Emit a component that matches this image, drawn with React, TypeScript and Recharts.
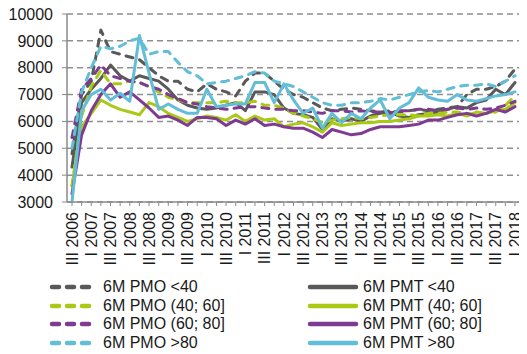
import React from 'react';
import { LineChart, Line, XAxis, YAxis, CartesianGrid } from 'recharts';

const quarters = [
  'III 2006', 'IV 2006',
  'I 2007', 'II 2007', 'III 2007', 'IV 2007',
  'I 2008', 'II 2008', 'III 2008', 'IV 2008',
  'I 2009', 'II 2009', 'III 2009', 'IV 2009',
  'I 2010', 'II 2010', 'III 2010', 'IV 2010',
  'I 2011', 'II 2011', 'III 2011', 'IV 2011',
  'I 2012', 'II 2012', 'III 2012', 'IV 2012',
  'I 2013', 'II 2013', 'III 2013', 'IV 2013',
  'I 2014', 'II 2014', 'III 2014', 'IV 2014',
  'I 2015', 'II 2015', 'III 2015', 'IV 2015',
  'I 2016', 'II 2016', 'III 2016', 'IV 2016',
  'I 2017', 'II 2017', 'III 2017', 'IV 2017',
  'I 2018',
];

const pmoLt40 = [4800, 7000, 7500, 9400, 8600, 8500, 8400, 8300, 8000, 7700, 7500, 7500, 7200, 7100, 7400, 7200, 7100, 6950, 7500, 7800, 7800, 7500, 7200, 7000, 6900, 6700, 6500, 6400, 6450, 6500, 6450, 6400, 6350, 6400, 6350, 6400, 6450, 6400, 6450, 6500, 6550, 7000, 7200, 7200, 7300, 7500, 7950];
const pmtLt40 = [4300, 6700, 7200, 7600, 8100, 7700, 7500, 7700, 7600, 7500, 7200, 6800, 6600, 6500, 6450, 6500, 6600, 6700, 6400, 7100, 7100, 7000, 6500, 6300, 6250, 6150, 5700, 6100, 6000, 6100, 6000, 6200, 6300, 6350, 6200, 6150, 6250, 6300, 6350, 6450, 6550, 6500, 6700, 6800, 7200, 7000, 7450];
const pmo40_60 = [3600, 6200, 7300, 7900, 7400, 7400, 7500, 7450, 7300, 7100, 6900, 6800, 6700, 6700, 6700, 6700, 6750, 6700, 6700, 6750, 6600, 6600, 6500, 6300, 6200, 6100, 5950, 6050, 6100, 6150, 6100, 6150, 6200, 6250, 6250, 6250, 6200, 6300, 6300, 6350, 6350, 6300, 6250, 6300, 6350, 6600, 6950];
const pmt40_60 = [3600, 5800, 6300, 6800, 6600, 6450, 6350, 6250, 6700, 6550, 6300, 6150, 6000, 6100, 6200, 6150, 6050, 6250, 6000, 6200, 6050, 6100, 5800, 5900, 5950, 5800, 5600, 5950, 5850, 5900, 5950, 5950, 6000, 6000, 6050, 6100, 6200, 6200, 6250, 6200, 6300, 6200, 6350, 6300, 6400, 6450, 6700];
const pmo60_80 = [5400, 7200, 7600, 8100, 7700, 7600, 7500, 7450, 7300, 7200, 7000, 6850, 6700, 6650, 6550, 6500, 6450, 6500, 6550, 6550, 6500, 6450, 6450, 6400, 6400, 6350, 6300, 6400, 6400, 6350, 6400, 6350, 6350, 6300, 6400, 6400, 6450, 6450, 6400, 6450, 6500, 6450, 6500, 6450, 6500, 6600, 6750];
const pmt60_80 = [3300, 5500, 6400, 7000, 7400, 6900, 7100, 6800, 6500, 6150, 6200, 6050, 5850, 6150, 6150, 6100, 5850, 6050, 5900, 6100, 5850, 5900, 5800, 5750, 5750, 5600, 5400, 5700, 5600, 5500, 5550, 5700, 5800, 5800, 5800, 5850, 5900, 6050, 6050, 6150, 6250, 6300, 6200, 6300, 6450, 6350, 6550];
const pmoGt80 = [5000, 7100, 8000, 8800, 8700, 8800, 9000, 9100, 8500, 8600, 8600, 8200, 7850, 7700, 7400, 7450, 7500, 7600, 7700, 7850, 7800, 7500, 7400, 7300, 7100, 6900, 6700, 6600, 6600, 6700, 6700, 6750, 6850, 6800, 6900, 7000, 7100, 7150, 7100, 7200, 7300, 7350, 7350, 7400, 7300, 7500, 7700];
const pmtGt80 = [3000, 6400, 7000, 7200, 6800, 7050, 6750, 9200, 7800, 6450, 6650, 6450, 6300, 6300, 7200, 6550, 6600, 6650, 6650, 7450, 7450, 6700, 7400, 6800, 6300, 6500, 5750, 6300, 5950, 6300, 6100, 6500, 6800, 6100, 6500, 6700, 7250, 6900, 6800, 6750, 7000, 6800, 6750, 6850, 6950, 7000, 7100];

const yTicks = [3000, 4000, 5000, 6000, 7000, 8000, 9000, 10000];

const GRAY = '#595959';
const GREEN = '#A9C914';
const PURPLE = '#7F3A92';
const BLUE = '#62BED6';

const series = [
  { key: 'pmoLt40', name: '6M PMO <40', values: pmoLt40, color: GRAY, dashed: true },
  { key: 'pmtLt40', name: '6M PMT <40', values: pmtLt40, color: GRAY, dashed: false },
  { key: 'pmo40_60', name: '6M PMO (40; 60]', values: pmo40_60, color: GREEN, dashed: true },
  { key: 'pmt40_60', name: '6M PMT (40; 60]', values: pmt40_60, color: GREEN, dashed: false },
  { key: 'pmo60_80', name: '6M PMO (60; 80]', values: pmo60_80, color: PURPLE, dashed: true },
  { key: 'pmt60_80', name: '6M PMT (60; 80]', values: pmt60_80, color: PURPLE, dashed: false },
  { key: 'pmoGt80', name: '6M PMO >80', values: pmoGt80, color: BLUE, dashed: true },
  { key: 'pmtGt80', name: '6M PMT >80', values: pmtGt80, color: BLUE, dashed: false },
];

const data = quarters.map((q, i) => {
  const row: Record<string, string | number> = { q };
  series.forEach((s) => {
    row[s.key] = s.values[i];
  });
  return row;
});

const FONT = '"Liberation Sans", Arial, sans-serif';

const XTick = (props: any) => {
  const { x, y, payload } = props;
  const idx = quarters.indexOf(payload.value);
  if (idx % 2 !== 0) return <g />;
  return (
    <text
      x={x}
      y={y}
      transform={`rotate(-90, ${x}, ${y})`}
      textAnchor="end"
      dy="0.36em"
      fontSize={16}
      fill="#1a1a1a"
      fontFamily={FONT}
    >
      {payload.value}
    </text>
  );
};

const LegendItem = ({ s, left, top }: { s: any; left: number; top: number }) => (
  <div
    style={{
      position: 'absolute',
      left,
      top,
      height: 20,
      display: 'flex',
      alignItems: 'center',
      whiteSpace: 'nowrap',
    }}
  >
    <svg width={s.dashed ? 46 : 52} height={10} style={{ display: 'block' }}>
      <line
        x1={3}
        y1={5}
        x2={s.dashed ? 43 : 49}
        y2={5}
        stroke={s.color}
        strokeWidth={4.5}
        strokeLinecap="round"
        strokeDasharray={s.dashed ? '7 8' : undefined}
      />
    </svg>
    <span
      style={{
        marginLeft: s.dashed ? 8 : 4,
        fontSize: 16,
        fontFamily: FONT,
        color: '#1a1a1a',
        lineHeight: '20px',
      }}
    >
      {s.name}
    </span>
  </div>
);

export default function App() {
  const pmo = series.filter((s) => s.dashed);
  const pmt = series.filter((s) => !s.dashed);
  const rowTops = [277, 296, 314, 333];
  return (
    <div
      style={{
        position: 'relative',
        width: 527,
        height: 354,
        marginTop: -8,
        marginLeft: -8,
        fontFamily: FONT,
      }}
    >
      <LineChart
        width={527}
        height={354}
        data={data}
        margin={{ top: 14, right: 7, left: 0, bottom: 0 }}
      >
        <CartesianGrid
          vertical={false}
          stroke="#8f8f8f"
          strokeWidth={1.5}
          strokeDasharray="6 4"
        />
        <XAxis
          dataKey="q"
          type="category"
          interval={0}
          height={152}
          padding={{ left: 5, right: 5 }}
          axisLine={{ stroke: '#8a8a8a', strokeWidth: 1.5 }}
          tickLine={{ stroke: '#8a8a8a', strokeWidth: 1 }}
          tickSize={4}
          tickMargin={6}
          tick={<XTick />}
        />
        <YAxis
          width={67}
          domain={[3000, 10000]}
          ticks={yTicks}
          interval={0}
          allowDataOverflow
          axisLine={{ stroke: '#8a8a8a', strokeWidth: 1.5 }}
          tickLine={{ stroke: '#8a8a8a', strokeWidth: 1 }}
          tickSize={5}
          tickMargin={9}
          tick={{ fontSize: 16, fill: '#1a1a1a', fontFamily: FONT }}
        />
        {series.map((s) => (
          <Line
            key={s.key}
            dataKey={s.key}
            name={s.name}
            type="linear"
            stroke={s.color}
            strokeWidth={3}
            strokeDasharray={s.dashed ? '7 7' : undefined}
            strokeLinecap="round"
            strokeLinejoin="round"
            dot={false}
            activeDot={false}
            isAnimationActive={false}
          />
        ))}
      </LineChart>
      {pmo.map((s, i) => (
        <LegendItem key={s.key} s={s} left={49} top={rowTops[i]} />
      ))}
      {pmt.map((s, i) => (
        <LegendItem key={s.key} s={s} left={307} top={rowTops[i]} />
      ))}
    </div>
  );
}
